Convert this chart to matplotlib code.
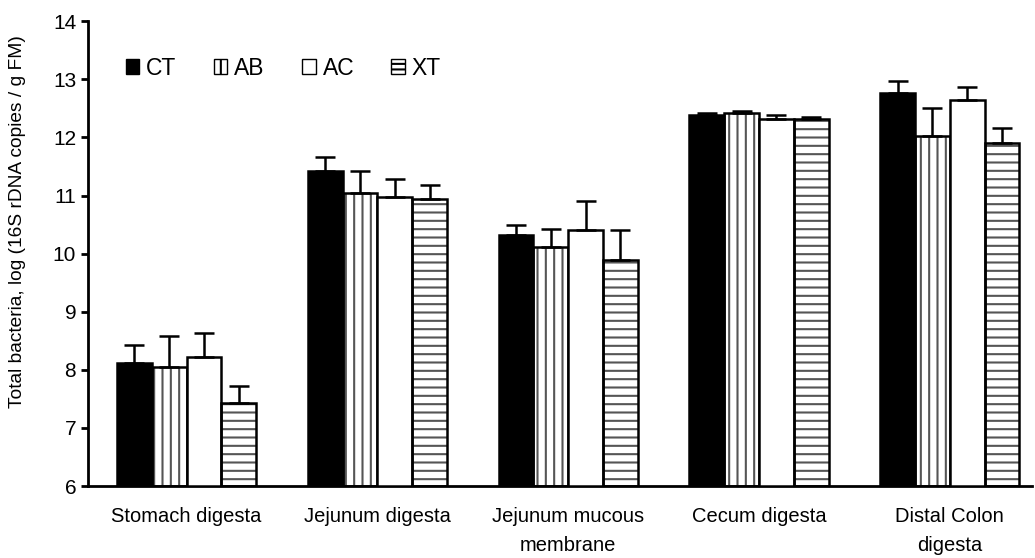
"""
Total bacteria per gut segment and treatment.
"""

import numpy as np
import matplotlib.pyplot as plt
from matplotlib.patches import Patch

categories = [
    "Stomach digesta",
    "Jejunum digesta",
    "Jejunum mucous\nmembrane",
    "Cecum digesta",
    "Distal Colon\ndigesta",
]
treatments = ["CT", "AB", "AC", "XT"]

# means and upper SE, log(16S rDNA copies / g FM)
ct = [8.11, 11.42, 10.32, 12.38, 12.77]
ab = [8.04, 11.04, 10.11, 12.42, 12.02]
ac = [8.22, 10.97, 10.40, 12.31, 12.65]
xt = [7.43, 10.94, 9.89, 12.31, 11.90]

ct_err = [0.31, 0.24, 0.17, 0.04, 0.20]
ab_err = [0.55, 0.38, 0.32, 0.03, 0.49]
ac_err = [0.41, 0.31, 0.50, 0.07, 0.21]
xt_err = [0.30, 0.24, 0.51, 0.04, 0.27]


def main():
    plt.rcParams["font.family"] = ["Liberation Sans", "DejaVu Sans"]
    plt.rcParams["hatch.linewidth"] = 1.5

    fig = plt.figure(figsize=(10.35, 5.58), dpi=100)
    ax = fig.add_axes([0.085, 0.129, 0.912, 0.833])

    means = [ct, ab, ac, xt]
    errs = [ct_err, ab_err, ac_err, xt_err]
    faces = ["black", "white", "white", "white"]
    hatches = [None, "||", None, "--"]

    x = np.arange(len(categories))
    width = 0.1825
    for i in range(4):
        pos = x + (i - 1.5) * width
        vals = np.array(means[i])
        if hatches[i]:
            ax.bar(pos, vals - 6, width, bottom=6, color="white",
                   edgecolor="#555555", hatch=hatches[i], linewidth=0, zorder=2)
            ax.bar(pos, vals - 6, width, bottom=6, fill=False,
                   edgecolor="black", linewidth=1.8, zorder=3)
        else:
            ax.bar(pos, vals - 6, width, bottom=6, color=faces[i],
                   edgecolor="black", linewidth=1.8, zorder=3)
        ax.errorbar(pos, vals, yerr=[np.zeros(len(vals)), errs[i]], fmt="none",
                    ecolor="black", elinewidth=1.8, capsize=7, capthick=1.8,
                    zorder=4)

    ax.set_ylim(6, 14)
    ax.set_xlim(-0.517, 4.43)
    ax.set_yticks(range(6, 15))
    ax.set_xticks(x)
    ax.set_xticklabels(categories, fontsize=14.5, linespacing=1.7)
    ax.tick_params(axis="x", length=0, pad=15)
    ax.tick_params(axis="y", direction="out", length=5, width=2, labelsize=15)
    ax.set_ylabel("Total bacteria, log (16S rDNA copies / g FM)", fontsize=13.8)
    ax.yaxis.set_label_coords(-0.066, 0.568)

    for side in ["top", "right"]:
        ax.spines[side].set_visible(False)
    for side in ["left", "bottom"]:
        ax.spines[side].set_linewidth(2)

    handles = [
        Patch(facecolor="black", edgecolor="black"),
        Patch(facecolor="white", edgecolor="black", hatch="||"),
        Patch(facecolor="white", edgecolor="black"),
        Patch(facecolor="white", edgecolor="black", hatch="---"),
    ]
    ax.legend(handles, treatments, ncol=4, frameon=False, fontsize=16.5,
              loc="upper left", bbox_to_anchor=(0.018, 0.968),
              handlelength=0.6, handleheight=0.6, handletextpad=0.3,
              columnspacing=1.62)

    fig.savefig("out.png", dpi=100)


if __name__ == "__main__":
    main()
